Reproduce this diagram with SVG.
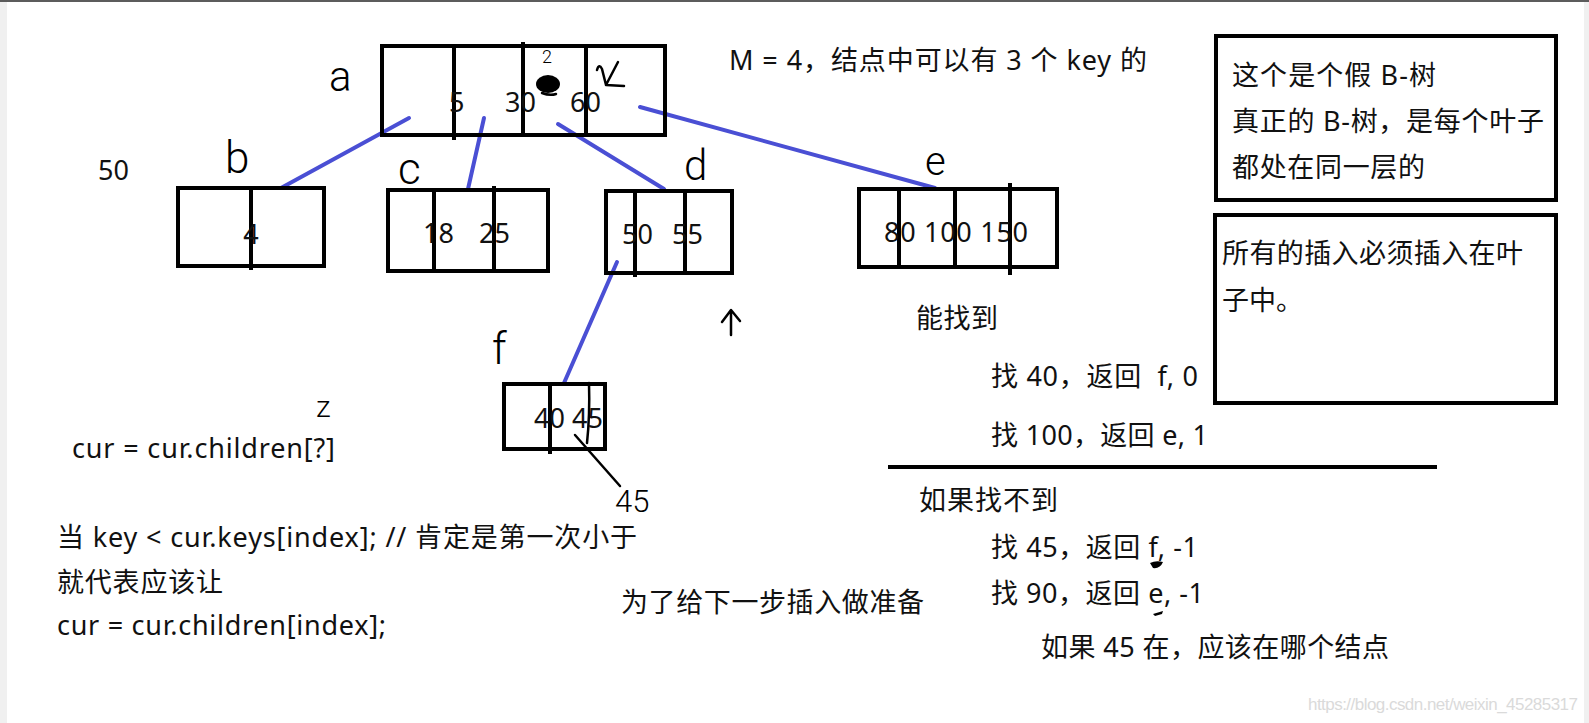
<svg xmlns="http://www.w3.org/2000/svg" width="1589" height="723" viewBox="0 0 1589 723">
<style>
  .box { fill: none; stroke: #000; stroke-width: 4; }
  .div { stroke: #000; stroke-width: 4; }
  .t { font-family: "Noto Sans", "Noto Sans CJK SC", sans-serif; font-size: 27px; fill: #111; }
  .k { font-family: "Noto Sans", "Noto Sans CJK SC", sans-serif; font-size: 27px; fill: #111; }
  .hw { font-family: Roboto, "Noto Sans", sans-serif; font-weight: 300; fill: #000; }
  .ink { fill: none; stroke: #000; stroke-width: 2.5; stroke-linecap: round; stroke-linejoin: round; }
  .edge { stroke: #4a4fd4; stroke-width: 4; stroke-linecap: round; fill: none; }
  .wm { font-family: "Liberation Sans", sans-serif; font-size: 17px; fill: #dadada; }
</style>
<rect x="0" y="0" width="1589" height="723" fill="#ffffff"/>
<rect x="0" y="0" width="7" height="723" fill="#f0f0f0"/>
<rect x="1584" y="0" width="5" height="723" fill="#f0f0f0"/>
<rect x="0" y="0" width="1589" height="2" fill="#5c5c5c"/>

<g id="connectors">
  <line class="edge" x1="409" y1="118" x2="281" y2="188"/>
  <line class="edge" x1="484" y1="118" x2="468" y2="189"/>
  <line class="edge" x1="558" y1="124" x2="664" y2="189"/>
  <line class="edge" x1="640" y1="107" x2="935" y2="188"/>
  <line class="edge" x1="617" y1="262" x2="564" y2="383"/>
</g>

<g id="node-a">
  <rect class="box" x="382" y="46" width="283" height="89"/>
  <line class="div" x1="454" y1="46" x2="454" y2="140"/>
  <line class="div" x1="523" y1="42" x2="523" y2="135"/>
  <line class="div" x1="586" y1="46" x2="586" y2="135"/>
  <text class="k" y="112"><tspan x="449">5</tspan><tspan x="505">30</tspan><tspan x="570">60</tspan></text>
  <text class="hw" x="329" y="91" font-size="42">a</text>
  <text class="hw" x="542" y="63" font-size="18" font-weight="700">2</text>
  <ellipse cx="548" cy="84" rx="12" ry="9" fill="#000"/>
  <path class="ink" d="M542,93 Q550,96 556,94"/>
  <path class="ink" d="M597,70 Q599,63 602,69 L606,85 L618,62 M606,85 L624,86"/>
</g>

<g id="node-b">
  <rect class="box" x="178" y="188" width="146" height="78"/>
  <line class="div" x1="251" y1="188" x2="251" y2="270"/>
  <text class="k" x="251" y="244" text-anchor="middle">4</text>
  <text class="hw" x="225" y="173" font-size="44">b</text>
</g>

<g id="node-c">
  <rect class="box" x="388" y="190" width="160" height="81"/>
  <line class="div" x1="434" y1="190" x2="434" y2="271"/>
  <line class="div" x1="494" y1="186" x2="494" y2="271"/>
  <text class="k" y="243"><tspan x="423">18</tspan><tspan x="479">25</tspan></text>
  <text class="hw" x="398" y="184" font-size="44">c</text>
</g>

<g id="node-d">
  <rect class="box" x="606" y="191" width="126" height="82"/>
  <line class="div" x1="635" y1="191" x2="635" y2="277"/>
  <line class="div" x1="685" y1="191" x2="685" y2="273"/>
  <text class="k" y="244"><tspan x="622">50</tspan><tspan x="672">55</tspan></text>
  <text class="hw" x="684" y="180" font-size="42">d</text>
</g>

<g id="node-e">
  <rect class="box" x="859" y="189" width="198" height="78"/>
  <line class="div" x1="899" y1="189" x2="899" y2="267"/>
  <line class="div" x1="955" y1="189" x2="955" y2="267"/>
  <line class="div" x1="1010" y1="183" x2="1010" y2="275"/>
  <text class="k" x="884" y="242" textLength="144" lengthAdjust="spacing">80 100 150</text>
  <text class="hw" x="925" y="175" font-size="40">e</text>
</g>

<g id="node-f">
  <rect class="box" x="504" y="384" width="101" height="65"/>
  <line class="div" x1="550" y1="384" x2="550" y2="454"/>
  <text class="k" y="428"><tspan x="534">40</tspan><tspan x="572">45</tspan></text>
  <path class="ink" d="M589,383 Q590,415 587,443"/>
  <path class="ink" d="M575,435 L620,486"/>
  <text class="hw" x="615" y="512" font-size="31">45</text>
  <text class="hw" x="492" y="364" font-size="44">f</text>
</g>

<g id="note-top">
  <text class="t" x="729" y="70" textLength="418" lengthAdjust="spacing">M = 4，结点中可以有 3 个 key 的</text>
</g>

<g id="box-fake">
  <rect class="box" x="1216" y="36" width="340" height="164"/>
  <text class="t" x="1232" y="85" textLength="204" lengthAdjust="spacing">这个是个假 B-树</text>
  <text class="t" x="1232" y="131" textLength="312" lengthAdjust="spacing">真正的 B-树，是每个叶子</text>
  <text class="t" x="1232" y="177" textLength="193" lengthAdjust="spacing">都处在同一层的</text>
</g>

<g id="box-insert">
  <rect class="box" x="1215" y="215" width="341" height="188"/>
  <text class="t" x="1222" y="263" textLength="301" lengthAdjust="spacing">所有的插入必须插入在叶</text>
  <text class="t" x="1222" y="310">子中。</text>
</g>

<g id="notes-left">
  <text class="t" x="98" y="180">50</text>
  <text class="hw" x="316" y="417" font-size="30" font-weight="400">z</text>
  <text class="t" x="72" y="458" textLength="263" lengthAdjust="spacing">cur = cur.children[?]</text>
  <text class="t" x="57" y="547" textLength="580" lengthAdjust="spacing">当 key &lt; cur.keys[index]; // 肯定是第一次小于</text>
  <text class="t" x="57" y="592" textLength="166" lengthAdjust="spacing">就代表应该让</text>
  <text class="t" x="57" y="635" textLength="329" lengthAdjust="spacing">cur = cur.children[index];</text>
  <text class="t" x="621" y="612" textLength="303" lengthAdjust="spacing">为了给下一步插入做准备</text>
  <path class="ink" d="M731,335 L731,311 M722,322 L731,310 L740,321"/>
</g>

<g id="notes-right">
  <text class="t" x="916" y="328" textLength="82" lengthAdjust="spacing">能找到</text>
  <text class="t" x="991" y="386" textLength="207" lengthAdjust="spacing" xml:space="preserve">找 40，返回  f, 0</text>
  <text class="t" x="991" y="445" textLength="217" lengthAdjust="spacing">找 100，返回 e, 1</text>
  <line x1="888" y1="467" x2="1437" y2="467" stroke="#000" stroke-width="4"/>
  <text class="t" x="919" y="510" textLength="139" lengthAdjust="spacing">如果找不到</text>
  <text class="t" x="991" y="557" textLength="207" lengthAdjust="spacing">找 45，返回 f, -1</text>
  <path d="M1150,563 Q1156,560 1163,562 Q1160,569 1153,568 Z" fill="#000"/>
  <text class="t" x="991" y="603" textLength="213" lengthAdjust="spacing">找 90，返回 e, -1</text>
  <path d="M1153,614 L1163,611 L1162,614 L1155,616 Z" fill="#000"/>
  <text class="t" x="1041" y="657" textLength="348" lengthAdjust="spacing">如果 45 在，应该在哪个结点</text>
</g>

<text class="wm" x="1308" y="710" textLength="270" lengthAdjust="spacing">https://blog.csdn.net/weixin_45285317</text>
</svg>
